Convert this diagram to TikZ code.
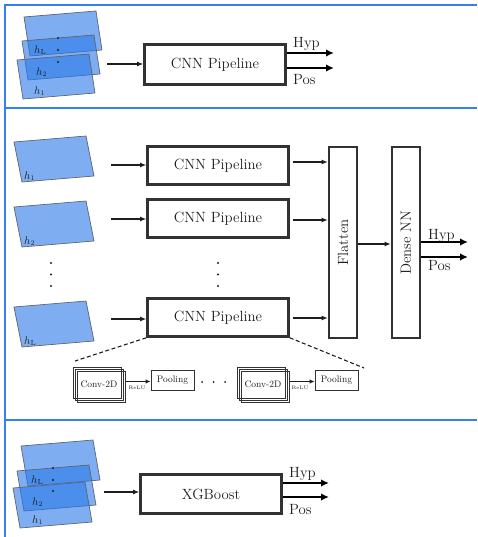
\documentclass[tikz,border=0pt]{standalone}
\usepackage{fontspec}
\usetikzlibrary{arrows.meta}
\definecolor{panelblue}{RGB}{52,128,238}
\definecolor{sheetblue}{RGB}{40,120,232}
\definecolor{sheetedge}{RGB}{95,100,110}
\definecolor{boxgray}{RGB}{50,50,50}
\definecolor{ink}{RGB}{30,30,30}

\tikzset{
  panel/.style={draw=panelblue, line width=2pt},
  sheet/.style={fill=sheetblue, fill opacity=0.6, draw=sheetedge, line width=0.7pt},
  hlabel/.style={font=\fontsize{10.5}{12}\selectfont, inner sep=0pt, anchor=south west, text=ink},
  pipe/.style={draw=boxgray, line width=2.6pt, inner sep=0pt, text=ink,
               font=\fontsize{14.8}{17}\selectfont},
  arr/.style={draw=ink, line width=1.1pt, -{Latex[length=6pt,width=5pt]}},
  outarr/.style={draw=black, line width=1.6pt, -{Latex[length=8pt,width=7.5pt]}},
  outlbl/.style={font=\fontsize{14.8}{17}\selectfont, inner sep=0pt, anchor=base west, text=ink},
  layer/.style={draw=boxgray, line width=0.9pt, inner sep=0pt, minimum width=48pt,
                minimum height=31pt, text=ink, font=\fontsize{9.5}{11}\selectfont},
  poolbox/.style={draw=boxgray, line width=0.9pt, inner sep=0pt, minimum width=43pt,
                  minimum height=20pt, text=ink, font=\fontsize{9.5}{11}\selectfont},
  sarr/.style={draw=ink, line width=0.9pt, -{Latex[length=5pt,width=4.5pt]}},
  relu/.style={font=\fontsize{5}{6}\selectfont, inner sep=0pt, text=ink},
  cut/.style={draw=ink, line width=1.1pt, dash pattern=on 4pt off 2.5pt},
  vdot/.style={fill=ink, circle, inner sep=0pt, minimum size=2.4pt},
}

% one slanted input sheet: top-left corner, side vector, name of its bottom-left corner
\newcommand{\inputsheet}[5]{%
  \draw[sheet] (#1,#2) -- ++(72,-6) -- ++(#3,#4) -- ++(-72,6) -- cycle;
  \path (#1,#2) ++(#3,#4) coordinate (#5);}

\begin{document}
\begin{tikzpicture}[x=1pt,y=-1pt]
\useasboundingbox (0,0) rectangle (477,537);

% ---------- panel frames ----------
\draw[panel] (5,5) -- (477,5);
\draw[panel] (5,108) -- (477,108);
\draw[panel] (5,420) -- (477,420);
\draw[panel] (5,4) -- (5,537);

% ---------- panel 1: stacked sheets into one CNN ----------
\inputsheet{24}{17}{6}{39}{pa3}
\inputsheet{22}{41}{6}{39}{pa2}
\inputsheet{17}{60}{6}{39}{pa1}
\node[hlabel] at ([shift={(4,-1)}]pa3) {$h_{\mathrm{L}}$};
\node[hlabel] at ([shift={(8,-3)}]pa2) {$h_2$};
\node[hlabel] at ([shift={(11,-3)}]pa1) {$h_1$};
\node[vdot] at (58,38) {};
\node[vdot] at (58,50) {};
\node[vdot] at (58,62) {};

\node[pipe, minimum width=141pt, minimum height=40pt] (cnnA) at (215,64.5) {CNN Pipeline};
\coordinate (inA) at (107,64);
\draw[arr] (inA) -- (inA -| cnnA.west);
\coordinate (hypA) at (334,53);
\coordinate (posA) at (334,68);
\draw[outarr] (hypA -| cnnA.east) -- (hypA);
\draw[outarr] (posA -| cnnA.east) -- (posA);
\node[outlbl] at (293,47.5) {Hyp};
\node[outlbl] at (293,85) {Pos};

% ---------- panel 2: one CNN per sheet, flatten, dense ----------
\inputsheet{14}{142}{8}{40}{pb1}
\inputsheet{14}{207}{8}{40}{pb2}
\inputsheet{14}{307}{8}{40}{pb3}
\node[hlabel] at ([shift={(2,-1)}]pb1) {$h_1$};
\node[hlabel] at ([shift={(2,-1)}]pb2) {$h_2$};
\node[hlabel] at ([shift={(2,-1)}]pb3) {$h_{\mathrm{L}}$};
\node[vdot] at (51,263) {};
\node[vdot] at (51,274.5) {};
\node[vdot] at (51,286) {};

\node[pipe, minimum width=141pt, minimum height=38pt] (cnn1) at (218,165.5) {CNN Pipeline};
\node[pipe, minimum width=141pt, minimum height=38pt] (cnn2) at (218,218.5) {CNN Pipeline};
\node[pipe, minimum width=141pt, minimum height=38pt] (cnn3) at (218,317.5) {CNN Pipeline};
\node[vdot] at (218,263) {};
\node[vdot] at (218,274.5) {};
\node[vdot] at (218,286) {};

\coordinate (in1) at (111,165);
\coordinate (in2) at (111,219);
\coordinate (in3) at (111,319);
\draw[arr] (in1) -- (in1 -| cnn1.west);
\draw[arr] (in2) -- (in2 -| cnn2.west);
\draw[arr] (in3) -- (in3 -| cnn3.west);

\node[pipe, minimum width=28pt, minimum height=191pt] (flat) at (343,242.5) {\rotatebox{90}{Flatten}};
\node[pipe, minimum width=28pt, minimum height=191pt] (dense) at (406,242.5) {\rotatebox{90}{Dense NN}};

\coordinate (f1) at (293,162);
\coordinate (f2) at (293,220);
\coordinate (f3) at (293,318);
\draw[arr] (f1) -- (f1 -| flat.west);
\draw[arr] (f2) -- (f2 -| flat.west);
\draw[arr] (f3) -- (f3 -| flat.west);
\coordinate (fd) at (358,244);
\draw[arr] (fd -| flat.east) -- (fd -| dense.west);

\coordinate (hypB) at (468,242);
\coordinate (posB) at (468,257);
\draw[outarr] (hypB -| dense.east) -- (hypB);
\draw[outarr] (posB -| dense.east) -- (posB);
\node[outlbl] at (428,239) {Hyp};
\node[outlbl] at (428,270) {Pos};

% ---------- inside one CNN pipeline ----------
\coordinate (cutL) at (75,361);
\coordinate (cutR) at (364,368);
\draw[cut] (cnn3.south west) -- (cutL);
\draw[cut] (cnn3.south east) -- (cutR);

\node[layer] (cv1a) at (97,382.5) {};
\node[layer] (cv1b) at (99,384.5) {Conv-2D};
\node[layer] (cv1c) at (101,386.5) {};
\node[poolbox] (pl1) at (172.5,380) {Pooling};
\coordinate (r1) at (126,381.5);
\draw[sarr] (r1) -- (r1 -| pl1.west);
\node[relu] at (137,388) {ReLU};

\node[vdot, minimum size=2pt] at (202,382) {};
\node[vdot, minimum size=2pt] at (213.5,382) {};
\node[vdot, minimum size=2pt] at (225,382) {};

\node[layer] (cv2a) at (261,382.5) {};
\node[layer] (cv2b) at (263,384.5) {Conv-2D};
\node[layer] (cv2c) at (265,386.5) {};
\node[poolbox] (pl2) at (336.5,380.5) {Pooling};
\coordinate (r2) at (290,381.5);
\draw[sarr] (r2) -- (r2 -| pl2.west);
\node[relu] at (300,388) {ReLU};

% ---------- panel 3: stacked sheets into XGBoost ----------
\inputsheet{21}{446}{7}{40}{pc3}
\inputsheet{17}{471}{7}{40}{pc2}
\inputsheet{13}{488}{7}{40}{pc1}
\node[hlabel] at ([shift={(3,-1)}]pc3) {$h_{\mathrm{L}}$};
\node[hlabel] at ([shift={(8,-4)}]pc2) {$h_2$};
\node[hlabel] at ([shift={(12,-3)}]pc1) {$h_1$};
\node[vdot] at (53,468) {};
\node[vdot] at (53,480) {};
\node[vdot] at (53,491) {};

\node[pipe, minimum width=141pt, minimum height=39pt] (xgb) at (211,494) {XGBoost};
\coordinate (inC) at (104,492);
\draw[arr] (inC) -- (inC -| xgb.west);
\coordinate (hypC) at (329,483);
\coordinate (posC) at (329,497);
\draw[outarr] (hypC -| xgb.east) -- (hypC);
\draw[outarr] (posC -| xgb.east) -- (posC);
\node[outlbl] at (289,477) {Hyp};
\node[outlbl] at (289,514) {Pos};
\end{tikzpicture}
\end{document}
